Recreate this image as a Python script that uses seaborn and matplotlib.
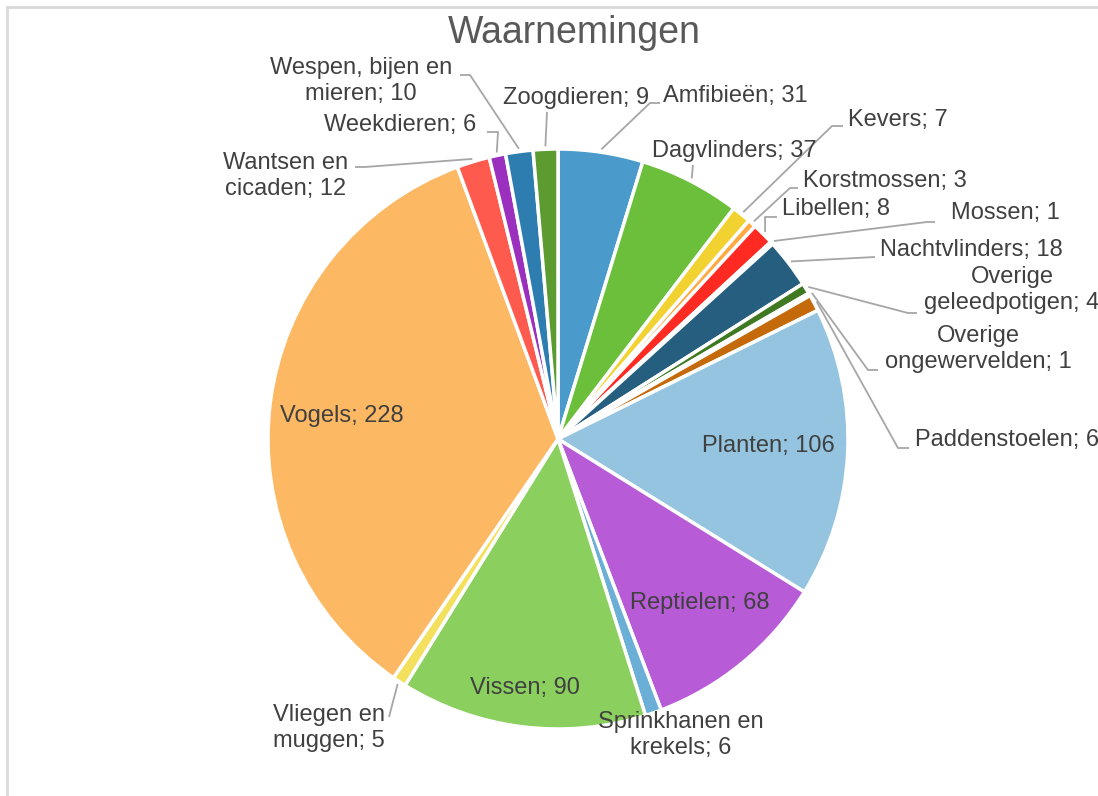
import numpy as np
import matplotlib
matplotlib.use("Agg")
import matplotlib.pyplot as plt
import seaborn as sns
from matplotlib.patches import Rectangle

categories = ['Amfibieën', 'Dagvlinders', 'Kevers', 'Korstmossen', 'Libellen', 'Mossen',
              'Nachtvlinders', 'Overige geleedpotigen', 'Overige ongewervelden', 'Paddenstoelen',
              'Planten', 'Reptielen', 'Sprinkhanen en krekels', 'Vissen', 'Vliegen en muggen',
              'Vogels', 'Wantsen en cicaden', 'Weekdieren', 'Wespen, bijen en mieren', 'Zoogdieren']
counts = [31, 37, 7, 3, 8, 1, 18, 4, 1, 6, 106, 68, 6, 90, 5, 228, 12, 6, 10, 9]
colors = ['#4A9BCB', '#6CBF3B', '#F2D230', '#FFA940', '#FF2B22', '#A0C040',
          '#255E7E', '#3F7A22', '#7F7F7F', '#C46A0A',
          '#94C4E0', '#B75BD6', '#6BAED6', '#8BD05E', '#F3E05C',
          '#FDB863', '#FF5A4E', '#9B2FBE', '#2E7DB0', '#5B9B2F']

# label text as shown (line breaks like in the original)
label_text = {
    'Overige geleedpotigen': 'Overige\ngeleedpotigen',
    'Overige ongewervelden': 'Overige\nongewervelden',
    'Sprinkhanen en krekels': 'Sprinkhanen en\nkrekels',
    'Vliegen en muggen': 'Vliegen en\nmuggen',
    'Wantsen en cicaden': 'Wantsen en\ncicaden',
    'Wespen, bijen en mieren': 'Wespen, bijen en\nmieren',
}

# layout: label position (pixels), alignment, leader points after rim
layout = {
    'Amfibieën': (735, 96, 'center', [(650, 103), (660, 103)]),
    'Dagvlinders': (734, 151, 'center', [(693, 165)]),
    'Kevers': (898, 120, 'center', [(832, 126), (843, 126)]),
    'Korstmossen': (885, 181, 'center', [(790, 188), (798, 188)]),
    'Libellen': (836, 209, 'center', [(765, 217), (777, 217)]),
    'Mossen': (1005, 213, 'center', [(927, 222), (935, 222)]),
    'Nachtvlinders': (971, 250, 'center', [(875, 257)]),
    'Overige geleedpotigen': (1012, 290, 'center', [(908, 313), (917, 313)]),
    'Overige ongewervelden': (978, 349, 'center', [(868, 370), (878, 370)]),
    'Paddenstoelen': (915, 440, 'left', [(898, 448), (909, 448)]),
    'Planten': (768, 446, 'center', None),
    'Reptielen': (700, 603, 'center', None),
    'Sprinkhanen en krekels': (681, 735, 'center', None),
    'Vissen': (525, 688, 'center', None),
    'Vliegen en muggen': (329, 728, 'center', [(389, 717)]),
    'Vogels': (342, 416, 'center', None),
    'Wantsen en cicaden': (286, 176, 'center', [(365, 167), (355, 167)]),
    'Weekdieren': (400, 125, 'center', [(498, 132), (487, 132)]),
    'Wespen, bijen en mieren': (361, 81, 'center', [(470, 75), (460, 75)]),
    'Zoogdieren': (576, 98, 'center', [(547, 112)]),
}

sns.set_theme(style='white')
plt.rcParams['font.family'] = ['Liberation Sans', 'DejaVu Sans']

fig = plt.figure(figsize=(10.98, 7.96), dpi=100)
ax = fig.add_axes([0, 0, 1, 1])
ax.set_xlim(0, 1098)
ax.set_ylim(796, 0)
ax.set_aspect('equal')
ax.axis('off')

cx, cy, r = 558, 439, 290
wedges, _ = ax.pie(counts, colors=colors, center=(cx, cy), radius=r,
                   startangle=-90, counterclock=True,
                   wedgeprops=dict(edgecolor='white', linewidth=2.5))
ax.set_xlim(0, 1098)
ax.set_ylim(796, 0)

for w, cat, n in zip(wedges, categories, counts):
    tx, ty, ha, leader = layout[cat]
    txt = label_text.get(cat, cat) + '; ' + str(n)
    ax.text(tx, ty, txt, ha=ha, va='center', multialignment='center',
            fontsize=17, color='#404040')
    if leader:
        mid = np.deg2rad((w.theta1 + w.theta2) / 2)
        pts = [(cx + r * 1.01 * np.cos(mid), cy + r * 1.01 * np.sin(mid))] + leader
        xs, ys = zip(*pts)
        ax.plot(xs, ys, color='#A6A6A6', lw=1.3, solid_capstyle='butt')

ax.text(574, 33, 'Waarnemingen', ha='center', va='center', fontsize=27, color='#595959')

# chart-area outline (only top and left edge visible)
fig.patches.append(Rectangle((7, -300), 1400, 796 - 7 + 300, transform=None,
                             fill=False, edgecolor='#D9D9D9', lw=2))

fig.savefig('out.png', dpi=100)
